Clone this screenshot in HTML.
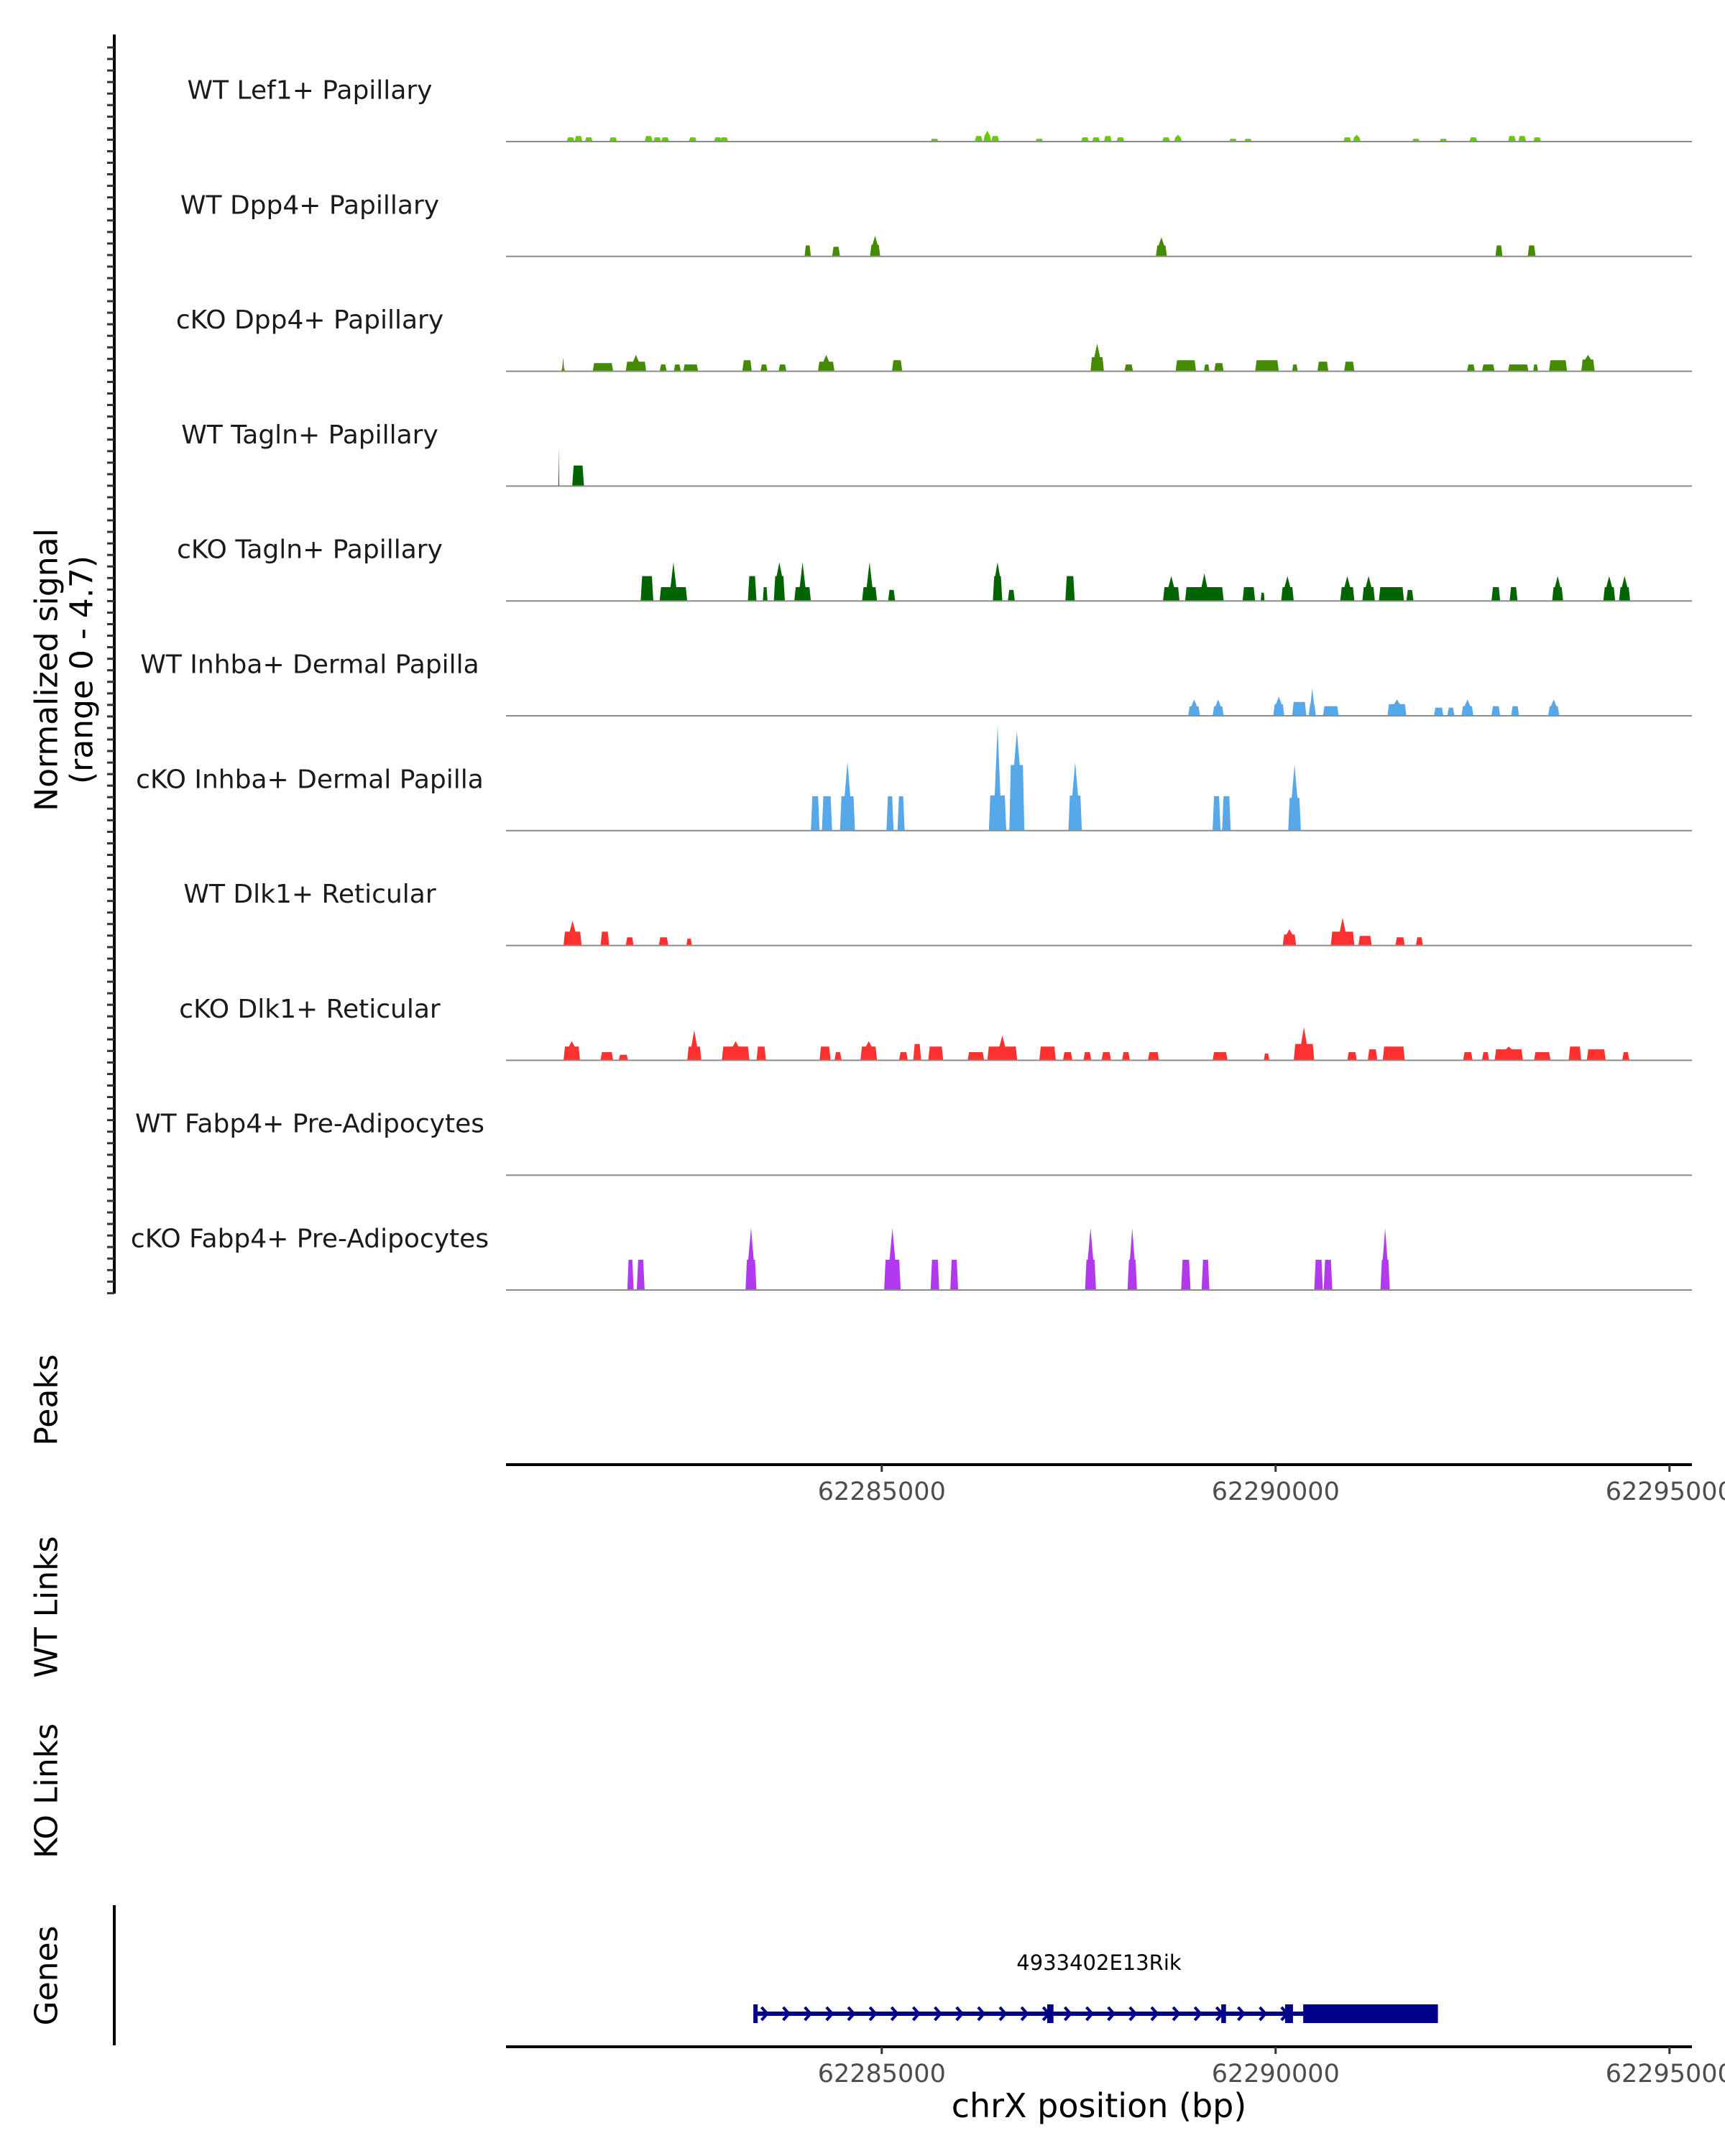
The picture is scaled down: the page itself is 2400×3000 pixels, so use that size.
<!DOCTYPE html>
<html><head><meta charset="utf-8"><style>
html,body{margin:0;padding:0;background:#fff;}
svg{display:block;font-family:"DejaVu Sans","Liberation Sans",sans-serif;}
</style></head><body>
<svg id="chart" width="2400" height="3000" viewBox="0 0 2400 3000" xmlns="http://www.w3.org/2000/svg">
<rect width="2400" height="3000" fill="#fff"/>
<g><line x1="159" y1="48" x2="159" y2="1800" stroke="#000" stroke-width="4"/></g>
<g id="minorTicks"></g>
<text transform="translate(65,932) rotate(-90)" text-anchor="middle" font-size="44" dominant-baseline="central">Normalized signal</text>
<text transform="translate(114,932) rotate(-90)" text-anchor="middle" font-size="44" dominant-baseline="central">(range 0 - 4.7)</text>
<g id="tracks"></g>
<text transform="translate(65,1948) rotate(-90)" text-anchor="middle" font-size="44" dominant-baseline="central">Peaks</text>
<text transform="translate(65,2236) rotate(-90)" text-anchor="middle" font-size="44" dominant-baseline="central">WT Links</text>
<text transform="translate(65,2492) rotate(-90)" text-anchor="middle" font-size="44" dominant-baseline="central">KO Links</text>
<text transform="translate(65,2749) rotate(-90)" text-anchor="middle" font-size="44" dominant-baseline="central">Genes</text>
<line x1="159" y1="2651" x2="159" y2="2846" stroke="#000" stroke-width="4"/>
<g id="axes"></g>
<g id="gene"></g>
<text x="1529" y="2930" text-anchor="middle" font-size="46" dominant-baseline="central">chrX position (bp)</text>
</svg>
<script>
// positions in kb offset from chrX:62280000; heights in normalized signal
const regionStartKb = 0.23;
const regionEndKb = 15.28;
const xTicksBp = [62285000, 62290000, 62295000];
const trackNames = ["WT Lef1+ Papillary","WT Dpp4+ Papillary","cKO Dpp4+ Papillary","WT Tagln+ Papillary","cKO Tagln+ Papillary","WT Inhba+ Dermal Papilla","cKO Inhba+ Dermal Papilla","WT Dlk1+ Reticular","cKO Dlk1+ Reticular","WT Fabp4+ Pre-Adipocytes","cKO Fabp4+ Pre-Adipocytes"];
const trackColors = ["#66cc00","#458b00","#458b00","#006400","#006400","#56a8e8","#56a8e8","#ff3030","#ff3030","#b23aee","#b23aee"];
// peaks: [startKb, endKb, baseHeight, spikeHeight]
const lef1WT = [[1.0,1.1,.18,.18],[1.1,1.2,.24,.24],[1.23,1.33,.18,.18],[1.54,1.64,.18,.18],[1.99,2.09,.24,.24],[2.1,2.2,.18,.18],[2.2,2.3,.18,.18],[2.55,2.65,.18,.18],[2.87,2.97,.18,.18],[2.95,3.05,.18,.18],[5.62,5.72,.12,.12],[6.18,6.28,.24,.24],[6.29,6.39,.3,.47],[6.39,6.49,.24,.24],[6.95,7.05,.12,.12],[7.53,7.63,.18,.18],[7.67,7.77,.18,.18],[7.82,7.92,.24,.24],[7.98,8.08,.18,.18],[8.56,8.66,.18,.18],[8.71,8.81,.2,.29],[9.41,9.51,.12,.12],[9.6,9.7,.12,.12],[10.86,10.96,.18,.18],[10.98,11.08,.2,.29],[11.73,11.83,.12,.12],[12.08,12.18,.12,.12],[12.46,12.56,.18,.18],[12.95,13.05,.24,.24],[13.08,13.18,.24,.24],[13.27,13.37,.18,.18]];
const dpp4WT = [[4.02,4.1,.47,.47],[4.37,4.47,.41,.41],[4.85,4.98,.5,.88],[8.48,8.62,.47,.82],[12.79,12.88,.47,.47],[13.2,13.3,.47,.47]];
const dpp4KO = [[.93,.98,.1,.59],[1.33,1.59,.35,.35],[1.75,2.01,.41,.7],[2.18,2.27,.29,.29],[2.36,2.45,.29,.29],[2.48,2.67,.29,.29],[3.23,3.35,.47,.47],[3.46,3.55,.29,.29],[3.69,3.79,.29,.29],[4.19,4.4,.41,.7],[5.13,5.26,.47,.47],[7.65,7.82,.6,1.18],[8.08,8.19,.29,.29],[8.73,8.99,.47,.47],[9.09,9.16,.29,.29],[9.22,9.34,.35,.35],[9.74,10.04,.47,.47],[10.21,10.28,.29,.29],[10.53,10.67,.41,.41],[10.87,11.0,.41,.41],[12.43,12.53,.29,.29],[12.62,12.78,.29,.29],[12.95,13.21,.29,.29],[13.27,13.33,.29,.29],[13.47,13.7,.47,.47],[13.88,14.05,.5,.7]];
const taglnWT = [[.89,.91,.05,1.65],[1.07,1.22,.88,.88]];
const taglnKO = [[1.94,2.1,1.06,1.06],[2.18,2.53,.59,1.65],[3.3,3.41,1.06,1.06],[3.49,3.55,.59,.59],[3.63,3.77,1.06,1.65],[3.89,4.1,.59,1.65],[4.75,4.94,.59,1.65],[5.08,5.17,.47,.47],[6.41,6.53,1.06,1.65],[6.6,6.69,.47,.47],[7.33,7.45,1.06,1.06],[8.57,8.78,.59,1.06],[8.85,9.34,.59,1.18],[9.58,9.74,.59,.59],[9.81,9.86,.35,.35],[10.07,10.23,.59,1.06],[10.82,11.0,.59,1.06],[11.1,11.26,.59,1.06],[11.31,11.63,.59,.59],[11.66,11.75,.47,.47],[12.74,12.85,.59,.59],[12.97,13.07,.59,.59],[13.51,13.65,.59,1.06],[14.16,14.31,.59,1.06],[14.36,14.5,.59,1.06]];
const inhbaWT = [[8.89,9.04,.4,.7],[9.2,9.34,.4,.7],[9.97,10.11,.5,.82],[10.21,10.39,.59,.59],[10.42,10.51,.5,1.18],[10.6,10.8,.41,.41],[11.42,11.66,.5,.7],[12.01,12.13,.35,.35],[12.18,12.27,.35,.35],[12.36,12.51,.41,.7],[12.74,12.85,.41,.41],[12.99,13.09,.41,.41],[13.46,13.6,.41,.7]];
const inhbaKO = [[4.1,4.21,1.47,1.47],[4.24,4.37,1.47,1.47],[4.47,4.66,1.47,2.94],[5.06,5.15,1.47,1.47],[5.2,5.29,1.47,1.47],[6.36,6.58,1.5,4.47],[6.62,6.81,2.8,4.23],[7.37,7.54,1.5,2.94],[9.2,9.3,1.47,1.47],[9.32,9.43,1.47,1.47],[10.16,10.32,1.4,2.82]];
const dlk1WT = [[.96,1.19,.59,1.06],[1.43,1.54,.59,.59],[1.75,1.85,.35,.35],[2.17,2.29,.35,.35],[2.52,2.59,.29,.29],[10.09,10.26,.47,.7],[10.7,11.0,.59,1.18],[11.05,11.22,.41,.41],[11.52,11.64,.35,.35],[11.78,11.87,.35,.35]];
const dlk1KO = [[.96,1.17,.59,.82],[1.43,1.59,.35,.35],[1.66,1.78,.24,.24],[2.53,2.71,.59,1.29],[2.97,3.32,.59,.82],[3.41,3.53,.59,.59],[4.21,4.35,.59,.59],[4.4,4.49,.35,.35],[4.73,4.94,.59,.82],[5.22,5.33,.35,.35],[5.4,5.5,.7,.7],[5.59,5.78,.59,.59],[6.09,6.3,.35,.35],[6.34,6.72,.59,1.06],[7.0,7.21,.59,.59],[7.3,7.42,.35,.35],[7.56,7.66,.35,.35],[7.79,7.91,.35,.35],[8.05,8.15,.35,.35],[8.38,8.52,.35,.35],[9.2,9.39,.35,.35],[9.85,9.92,.29,.29],[10.23,10.49,.7,1.41],[10.91,11.03,.35,.35],[11.17,11.29,.47,.47],[11.36,11.64,.59,.59],[12.38,12.5,.35,.35],[12.62,12.71,.35,.35],[12.78,13.14,.47,.59],[13.28,13.49,.35,.35],[13.72,13.88,.59,.59],[13.95,14.19,.47,.47],[14.4,14.49,.35,.35]];
const fabp4WT = [];
const fabp4KO = [[1.77,1.85,1.29,1.29],[1.89,1.99,1.29,1.29],[3.27,3.41,1.29,2.64],[5.03,5.24,1.29,2.64],[5.62,5.73,1.29,1.29],[5.87,5.97,1.29,1.29],[7.58,7.72,1.29,2.64],[8.12,8.24,1.29,2.64],[8.8,8.92,1.29,1.29],[9.06,9.16,1.29,1.29],[10.49,10.6,1.29,1.29],[10.61,10.72,1.29,1.29],[11.33,11.45,1.29,2.64]];
const trackPeaks = [lef1WT,dpp4WT,dpp4KO,taglnWT,taglnKO,inhbaWT,inhbaKO,dlk1WT,dlk1KO,fabp4WT,fabp4KO];
// gene model (kb)
const geneName = "4933402E13Rik";
const geneStartKb = 3.39;
const geneEndKb = 12.06;
const utrStartKb = 10.35;
const exonStartsKb = [3.37, 7.10, 9.31, 10.12];
const exonEndsKb = [3.42, 7.18, 9.37, 10.22];

const NS = "http://www.w3.org/2000/svg";
const X0 = 704, PXKB = 109.6, YU = 32.6;
function xs(kb){ return X0 + (kb - regionStartKb) * PXKB; }
const xEnd = 2354;
function mk(tag, attrs, parent){ const e = document.createElementNS(NS, tag); for (const k in attrs) e.setAttribute(k, attrs[k]); parent.appendChild(e); return e; }

const mt = document.getElementById('minorTicks');
for (let y = 66; y <= 1800; y += 16.05) {
  const t = mk('line', {x1:149, x2:159, y1:y, y2:y, stroke:'#333', 'stroke-width':3}, mt);
  
  
}

const tg = document.getElementById('tracks');
trackNames.forEach((name, i) => {
  const base = 197 + i * 159.8;
  const g = mk('g', {}, tg);
  
  
  const lab = mk('text', {x:431, y:base - 71, 'text-anchor':'middle', 'font-size':36, 'dominant-baseline':'central', fill:'#1a1a1a'}, g);
  lab.textContent = name;
  
  
  trackPeaks[i].forEach(p => {
    const x1 = xs(p[0]), x2 = xs(p[1]);
    const hb = p[2] * YU, hs = p[3] * YU;
    const r = Math.min(2, (x2 - x1) / 5);
    const cx = (x1 + x2) / 2;
    let pts;
    if (hs > hb) {
      const sw = Math.min(4, (x2 - x1) / 4);
      pts = [[x1,base],[x1+r,base-hb],[cx-sw,base-hb],[cx,base-hs],[cx+sw,base-hb],[x2-r,base-hb],[x2,base]];
    } else {
      pts = [[x1,base],[x1+r,base-hb],[x2-r,base-hb],[x2,base]];
    }
    const pk = mk('polygon', {points: pts.map(q => q[0].toFixed(1) + ',' + q[1].toFixed(1)).join(' '), fill: trackColors[i]}, g);
    
    
  });
  const bl = mk('line', {x1:X0, x2:xEnd, y1:base, y2:base, stroke:'#8c8c8c', 'stroke-width':2}, g);
  
  
});

const ag = document.getElementById('axes');
[2038, 2848].forEach((ay, j) => {
  const al = mk('line', {x1:X0, x2:xEnd, y1:ay, y2:ay, stroke:'#000', 'stroke-width':4}, ag);
  
  
  xTicksBp.forEach(bp => {
    const tx = xs((bp - 62280000) / 1000);
    const tk = mk('line', {x1:tx, x2:tx, y1:ay, y2:ay + 10, stroke:'#333', 'stroke-width':3}, ag);
    
    
    const tl = mk('text', {x:tx, y:ay + 38, 'text-anchor':'middle', 'font-size':35, 'dominant-baseline':'central', fill:'#4d4d4d'}, ag);
    tl.textContent = String(bp);
    
    
  });
});

const gg = document.getElementById('gene');
const gy = 2802;
const gl = mk('text', {x:1529, y:2731, 'text-anchor':'middle', 'font-size':29, 'dominant-baseline':'central'}, gg);
gl.textContent = geneName;


const intron = mk('line', {x1:xs(geneStartKb), x2:xs(geneEndKb), y1:gy, y2:gy, stroke:'#00008b', 'stroke-width':6}, gg);


for (let kb = geneStartKb + 0.12; kb < utrStartKb - 0.05; kb += 0.275) {
  const ax = xs(kb);
  const ch = mk('polyline', {points:`${ax-4},${gy-9} ${ax+4},${gy} ${ax-4},${gy+9}`, fill:'none', stroke:'#00008b', 'stroke-width':4}, gg);
  
  
}
exonStartsKb.forEach((s, k) => {
  const ex = mk('rect', {x:xs(s), y:gy - 13, width:Math.max(6, xs(exonEndsKb[k]) - xs(s)), height:26, fill:'#00008b'}, gg);
  
  
});
const utr = mk('rect', {x:xs(utrStartKb), y:gy - 13, width:xs(geneEndKb) - xs(utrStartKb), height:26, fill:'#00008b'}, gg);


</script>
</body></html>
